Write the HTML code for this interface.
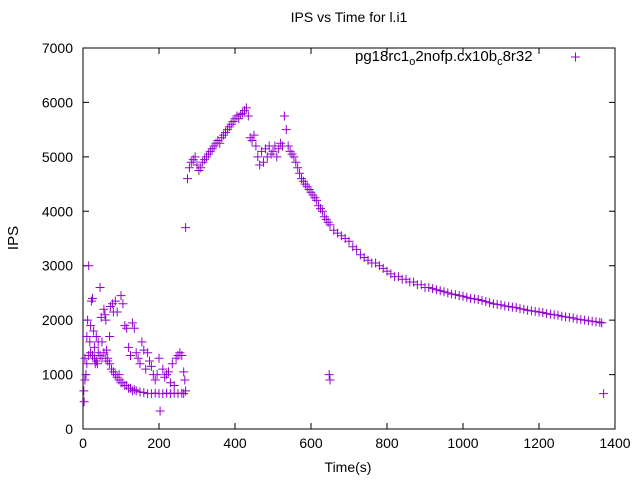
<!DOCTYPE html>
<html><head><meta charset="utf-8"><style>
body{margin:0;background:#fff;}
svg{display:block;font-family:"Liberation Sans",sans-serif;}
</style></head><body>
<svg id="chart" width="640" height="480" viewBox="0 0 640 480" xmlns="http://www.w3.org/2000/svg">
<rect width="640" height="480" fill="#fff"/>
<text x="349" y="22" font-size="14" text-anchor="middle" fill="#000">IPS vs Time for l.i1</text>
<text x="18" y="238" font-size="15" text-anchor="middle" fill="#000" transform="rotate(-90 18 238)">IPS</text>
<text x="348" y="472" font-size="14" text-anchor="middle" fill="#000">Time(s)</text>
<g id="axes"></g>
<g id="marks"></g>
<g>
<text x="355" y="61" font-size="15" fill="#000">pg18rc1<tspan font-size="11" dy="4">o</tspan><tspan dy="-4">2nofp.cx10b</tspan><tspan font-size="11" dy="4">c</tspan><tspan dy="-4">8r32</tspan></text>
<path d="M571 57h9M575.5 52.5v9" stroke="#9400d3" stroke-width="1"/>
</g>
</svg>
<script>
const xTicks=[0,200,400,600,800,1000,1200,1400];
const yTicks=[0,1000,2000,3000,4000,5000,6000,7000];
const mainTimes=[270,275,280,285,290,295,300,305,310,315,320,325,330,335,340,345,350,355,360,365,370,375,380,385,390,395,400,405,410,415,420,425,430,435,440,445,450,455,460,465,470,475,480,485,490,495,500,505,510,515,520,525,530,535,540,545,550,555,560,565,570,575,580,585,590,595,600,605,610,615,620,625,630,635,640,645,650,660,670,680,690,700,710,720,730,740,750,760,770,780,790,800,810,820,830,840,850,860,870,880,890,900,910,920,930,940,950,960,970,980,990,1000,1010,1020,1030,1040,1050,1060,1070,1080,1090,1100,1110,1120,1130,1140,1150,1160,1170,1180,1190,1200,1210,1220,1230,1240,1250,1260,1270,1280,1290,1300,1310,1320,1330,1340,1350,1360,1365,648,650,1370];
const mainIps=[3700,4600,4800,4900,4950,5000,4850,4750,4800,4900,4950,5000,5050,5100,5150,5200,5250,5300,5250,5350,5400,5450,5500,5550,5600,5650,5700,5750,5700,5780,5800,5850,5900,5750,5350,5300,5400,5200,5000,4850,5100,4900,5150,5000,5200,5050,5100,5200,5000,5150,5250,5200,5750,5500,5200,5100,5050,5000,4900,4800,4700,4600,4550,4500,4450,4400,4350,4300,4250,4200,4100,4050,4000,3900,3850,3800,3750,3650,3600,3550,3500,3450,3350,3300,3200,3150,3100,3050,3050,3000,2950,2900,2850,2800,2800,2750,2750,2700,2700,2650,2650,2600,2600,2580,2560,2540,2520,2500,2480,2470,2450,2440,2420,2400,2390,2380,2360,2340,2320,2300,2290,2280,2260,2250,2240,2230,2210,2200,2180,2170,2160,2150,2140,2120,2110,2100,2090,2070,2060,2050,2040,2020,2010,2000,1990,1980,1970,1960,1950,1000,900,650];
const earlyTimes=[5,10,15,20,25,30,35,40,45,50,55,60,65,70,75,80,85,90,95,100,105,110,115,120,125,130,135,140,150,160,170,180,190,200,210,220,230,240,250,260,265,2,3,5,8,10,12,15,18,20,22,25,28,30,32,35,38,40,45,48,50,55,58,60,62,65,70,72,78,80,85,90,95,100,105,110,115,120,125,130,135,140,145,150,155,160,165,170,175,180,185,190,195,200,203,210,215,220,225,230,235,240,245,250,255,260,265,268,270];
const earlyIps=[1300,1200,1350,1400,1350,1300,1250,1400,1350,1300,1400,1300,1250,1200,1100,1050,1000,950,900,850,850,800,800,750,750,700,720,700,680,670,650,650,660,650,650,660,650,660,650,660,650,700,500,900,1000,1700,2000,3000,1600,1900,2350,2400,1800,1500,1200,1700,1200,1600,2600,2050,1600,2200,2100,2000,1450,1300,1700,2250,2300,2150,2350,2150,1000,2450,2300,1900,1850,1500,1350,1950,1850,1400,1300,1200,1600,1450,1100,1400,1250,1150,1000,900,1000,1300,330,1100,950,1000,1050,850,1200,800,1300,1350,1400,1350,1050,900,700];
const X0=83,X1=615,Y0=429,Y1=48,XMAX=1400,YMAX=7000;
function sx(t){return X0+(t/XMAX)*(X1-X0);}
function sy(v){return Y0-(v/YMAX)*(Y0-Y1);}
const NS='http://www.w3.org/2000/svg';
const axes=document.getElementById('axes');
const frame=document.createElementNS(NS,'rect');


frame.setAttribute('x',X0);frame.setAttribute('y',Y1);frame.setAttribute('width',X1-X0);frame.setAttribute('height',Y0-Y1);
frame.setAttribute('fill','none');frame.setAttribute('stroke','#000');
axes.appendChild(frame);
xTicks.forEach(t=>{
  const x=sx(t);
  const l=document.createElementNS(NS,'path');
  
  
  l.setAttribute('d',`M${x} ${Y0}v-6M${x} ${Y1}v6`);l.setAttribute('stroke','#000');
  axes.appendChild(l);
  const tx=document.createElementNS(NS,'text');
  
  
  tx.setAttribute('x',x);tx.setAttribute('y',448);tx.setAttribute('font-size','14');tx.setAttribute('text-anchor','middle');
  tx.textContent=t;axes.appendChild(tx);
});
yTicks.forEach(v=>{
  const y=sy(v);
  const l=document.createElementNS(NS,'path');
  
  
  l.setAttribute('d',`M${X0} ${y}h6M${X1} ${y}h-6`);l.setAttribute('stroke','#000');
  axes.appendChild(l);
  const tx=document.createElementNS(NS,'text');
  
  
  tx.setAttribute('x',73);tx.setAttribute('y',y+5);tx.setAttribute('font-size','14');tx.setAttribute('text-anchor','end');
  tx.textContent=v;axes.appendChild(tx);
});
const marks=document.getElementById('marks');
function plot(ts,vs){
  let d='';
  for(let i=0;i<ts.length;i++){
    const x=sx(ts[i]),y=sy(vs[i]);
    d+=`M${(x-4.5).toFixed(1)} ${y.toFixed(1)}h9M${x.toFixed(1)} ${(y-4.5).toFixed(1)}v9`;
  }
  const p=document.createElementNS(NS,'path');
  
  
  p.setAttribute('d',d);p.setAttribute('stroke','#9400d3');p.setAttribute('stroke-width','1');
  marks.appendChild(p);
}
plot(mainTimes,mainIps);
plot(earlyTimes,earlyIps);
</script>
</body></html>
